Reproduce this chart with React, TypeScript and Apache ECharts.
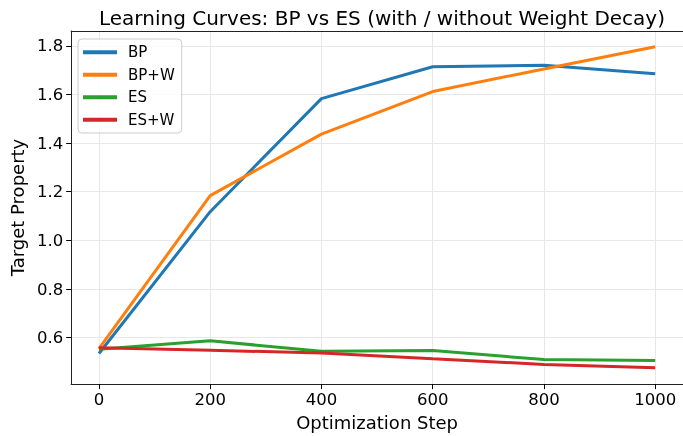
import React, { useEffect, useRef } from "react";
import * as echarts from "echarts";

const steps = [0, 200, 400, 600, 800, 1000];
const bp = [0.535, 1.118, 1.583, 1.714, 1.72, 1.685];
const bpW = [0.555, 1.184, 1.437, 1.612, 1.705, 1.796];
const es = [0.552, 0.587, 0.544, 0.547, 0.51, 0.506];
const esW = [0.558, 0.548, 0.537, 0.513, 0.49, 0.476];
const xTicks = [0, 200, 400, 600, 800, 1000];
const yTicks = [0.6, 0.8, 1.0, 1.2, 1.4, 1.6, 1.8];

const seriesDefs = [
  { name: "BP", data: bp, color: "#1f77b4" },
  { name: "BP+W", data: bpW, color: "#ff7f0e" },
  { name: "ES", data: es, color: "#2ca02c" },
  { name: "ES+W", data: esW, color: "#d62728" },
];

const FONT = "DejaVu Sans";

export default function App() {
  const ref = useRef<HTMLDivElement>(null);
  useEffect(() => {
    if (!ref.current) return;
    const chart = echarts.init(ref.current, undefined, { renderer: "svg" });
    chart.setOption({
      animation: false,
      textStyle: { fontFamily: FONT },
      title: {
        text: "Learning Curves: BP vs ES (with / without Weight Decay)",
        left: 377,
        textAlign: "center",
        top: 3,
        textStyle: { fontFamily: FONT, fontSize: 20, fontWeight: "normal", color: "#000" },
      },
      legend: {
        orient: "vertical",
        left: 78,
        top: 39,
        padding: [5, 7, 5, 5],
        itemWidth: 34,
        itemHeight: 4,
        itemGap: 6,
        icon: "rect",
        borderColor: "#cccccc",
        borderWidth: 1,
        borderRadius: 4,
        backgroundColor: "rgba(255,255,255,0.8)",
        textStyle: { fontFamily: FONT, fontSize: 15, color: "#000", lineHeight: 16.5, padding: [0, 0, 0, 6] },
        data: seriesDefs.map((s) => s.name),
      },
      grid: {
        left: 70,
        top: 31,
        width: 615,
        height: 356,
        containLabel: false,
        show: false,
      },
      xAxis: [
        {
          type: "value",
          min: -50,
          max: 1050,
          name: "Optimization Step",
          nameLocation: "middle",
          nameGap: 23,
          nameTextStyle: { fontFamily: FONT, fontSize: 18, color: "#000" },
          axisLine: { show: true, onZero: false, lineStyle: { color: "#222", width: 1 } },
          axisTick: { show: true, inside: false, length: 5, customValues: xTicks, lineStyle: { color: "#000" } },
          axisLabel: {
            customValues: xTicks,
            fontFamily: FONT,
            fontSize: 16.5,
            color: "#000",
            margin: 7,
            formatter: (v: number) => String(v),
          },
          splitLine: { show: true, lineStyle: { color: "#e8e8e8", width: 1 } },
        },
        {
          type: "value",
          position: "top",
          min: -50,
          max: 1050,
          axisLine: { show: true, onZero: false, lineStyle: { color: "#222", width: 1 } },
          axisTick: { show: false },
          axisLabel: { show: false },
          splitLine: { show: false },
        },
      ],
      yAxis: {
        type: "value",
        min: 0.409,
        max: 1.861,
        name: "Target Property",
        nameLocation: "middle",
        nameGap: 45,
        nameTextStyle: { fontFamily: FONT, fontSize: 18, color: "#000" },
        axisLine: { show: true, onZero: false, lineStyle: { color: "#222", width: 1 } },
        axisTick: { show: true, inside: false, length: 5, customValues: yTicks, lineStyle: { color: "#000" } },
        axisLabel: {
          customValues: yTicks,
          fontFamily: FONT,
          fontSize: 16.5,
          color: "#000",
          margin: 8,
          formatter: (v: number) => v.toFixed(1),
        },
        splitLine: { show: true, lineStyle: { color: "#e8e8e8", width: 1 } },
      },
      series: seriesDefs.map((s) => ({
        name: s.name,
        type: "line",
        xAxisIndex: 0,
        data: steps.map((x, i) => [x, s.data[i]]),
        showSymbol: false,
        symbol: "none",
        lineStyle: { color: s.color, width: 3 },
        itemStyle: { color: s.color },
        z: 3,
      })),
    });
    return () => chart.dispose();
  }, []);
  return (
    <div
      ref={ref}
      style={{ position: "fixed", left: 0, top: 0, width: 683, height: 436 }}
    />
  );
}
